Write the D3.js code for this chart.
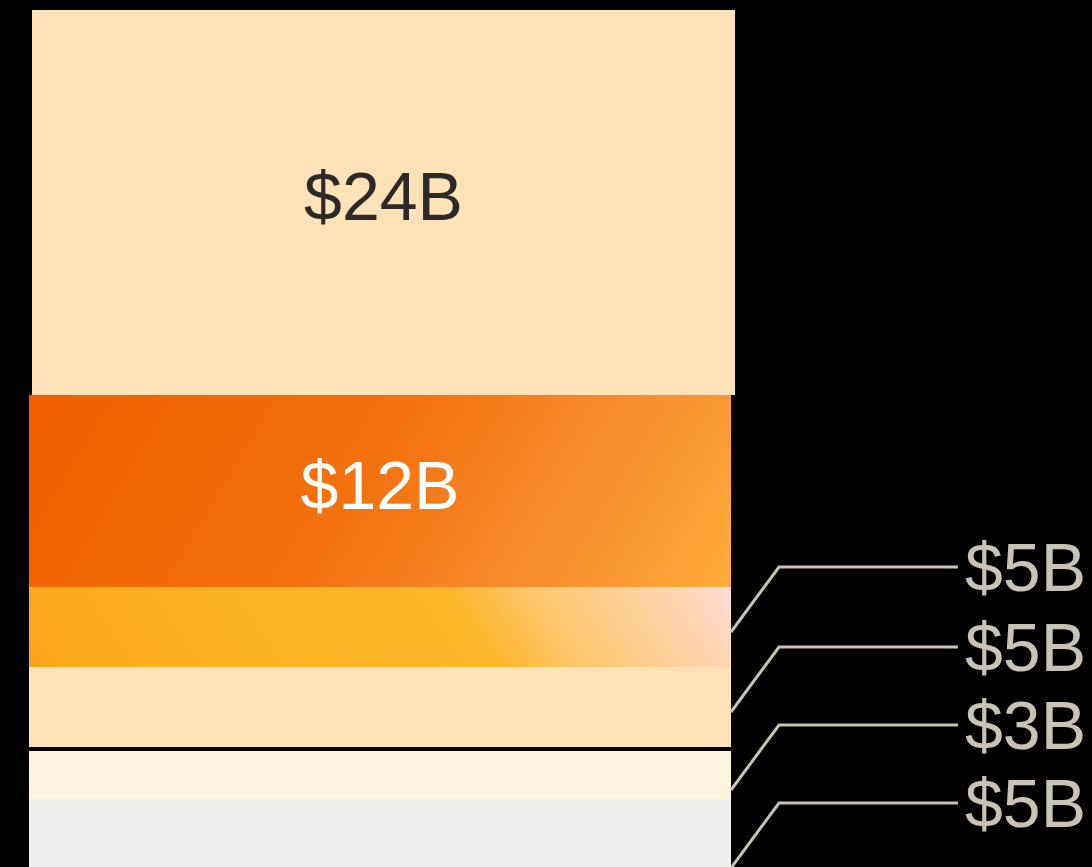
<!DOCTYPE html>
<html>
<head>
<meta charset="utf-8">
<script src="https://cdn.jsdelivr.net/npm/d3@7"></script>
<style>
  html, body { margin: 0; padding: 0; background: #000; }
  svg { display: block; }
</style>
</head>
<body>
<svg id="chart" width="1092" height="867"></svg>
<script>
// ---- data: one stacked column, segments listed top to bottom (values in $B)
const categories = ["Total"];
const segmentValues = [24, 12, 5, 5, 3, 5];
const segmentLabels = ["$24B", "$12B", "$5B", "$5B", "$3B", "$5B"];
const segmentGroups = [0, 0, 0, 0, 1, 1];

// ---- styling
const segmentFills = ["#FFE2B8", "url(#gradOrange)", "url(#gradAmber)", "#FFE2B8", "#FFF4DF", "#EFEFED"];
const insideTextColors = ["#2b2a28", "#ffffff"];
const calloutColor = "#C9C3B5";
const fontFamily = "'Liberation Sans', Arial, Helvetica, sans-serif";
const fontSize = 68;

// ---- layout
const W = 1092, H = 867;
const margin = { top: 10, left: 29 };
const barWidth = 702;
const firstGroupHeight = 737;      // pixel height of the first group of segments
const groupGap = 4;                // black separator between the two groups
const firstSegmentShift = 3;       // the top block sits slightly to the right
const insideMinHeight = 100;       // smaller segments get a callout on the right
const leader = { dx: 48, dy: 65, endX: 958, textX: 965, lift: 60, minSpacing: 78 };

const svg = d3.select("#chart").attr("width", W).attr("height", H);
svg.append("rect").attr("width", W).attr("height", H).attr("fill", "#000");

const x = d3.scaleBand().domain(categories).range([margin.left, margin.left + barWidth]).padding(0);
const firstGroupTotal = d3.sum(segmentValues.filter((v, i) => segmentGroups[i] === 0));
const y = d3.scaleLinear().domain([0, firstGroupTotal]).range([margin.top, margin.top + firstGroupHeight]);

// stacked extents, snapped to whole pixels so neighbouring blocks meet cleanly
const ends = d3.cumsum(segmentValues);
const segments = segmentValues.map((v, i) => {
  const v0 = ends[i] - v, v1 = ends[i];
  const off = segmentGroups[i] * groupGap;
  const top = Math.round(y(v0) + off), bottom = Math.round(y(v1) + off);
  const shift = i === 0 ? firstSegmentShift : 0;
  return {
    i, value: v, label: segmentLabels[i],
    x: x(categories[0]) + shift,
    w: x.bandwidth() + (shift ? 1 : 0),
    top, bottom, h: bottom - top, cy: (top + bottom) / 2,
    fill: segmentFills[i]
  };
});

// ---- gradients (direction-based, spanning each segment's box)
const defs = svg.append("defs");
function addGradient(id, seg, dir, stops) {
  const len = Math.hypot(dir[0], dir[1]);
  const ux = dir[0] / len, uy = dir[1] / len;
  const cx = seg.x + seg.w / 2, cy = seg.top + seg.h / 2;
  const corners = [[seg.x, seg.top], [seg.x + seg.w, seg.top], [seg.x, seg.bottom], [seg.x + seg.w, seg.bottom]];
  const proj = corners.map(([px, py]) => (px - cx) * ux + (py - cy) * uy);
  const pMin = d3.min(proj), pMax = d3.max(proj);
  const g = defs.append("linearGradient").attr("id", id)
    .attr("gradientUnits", "userSpaceOnUse")
    .attr("x1", cx + ux * pMin).attr("y1", cy + uy * pMin)
    .attr("x2", cx + ux * pMax).attr("y2", cy + uy * pMax);
  stops.forEach(([o, c]) => g.append("stop").attr("offset", o).attr("stop-color", c));
}
addGradient("gradOrange", segments[1], [1, 0.6], [
  [0, "#EF5E00"], [0.14, "#F06400"], [0.47, "#F3710F"], [0.7, "#F7892A"], [0.86, "#FA9934"], [1, "#FFAD3C"]
]);
addGradient("gradAmber", segments[2], [1, -0.66], [
  [0, "#FBA01A"], [0.07, "#FCAA20"], [0.3, "#FCB225"], [0.62, "#FCB62A"], [0.73, "#FDC66A"],
  [0.86, "#FED09C"], [0.93, "#FFD6B5"], [1, "#FFDDDA"]
]);

// ---- segments
svg.append("g").attr("shape-rendering", "crispEdges")
  .selectAll("rect").data(segments).join("rect")
  .attr("x", d => d.x).attr("y", d => d.top)
  .attr("width", d => d.w).attr("height", d => d.h)
  .attr("fill", d => d.fill);

// ---- labels inside tall segments
const inside = segments.filter(d => d.h >= insideMinHeight);
svg.append("g").selectAll("text").data(inside).join("text")
  .attr("x", d => d.x + d.w / 2).attr("y", d => d.cy)
  .attr("dy", "0.26em")
  .attr("text-anchor", "middle")
  .attr("font-family", fontFamily).attr("font-size", fontSize)
  .attr("fill", d => insideTextColors[d.i])
  .text(d => d.label);

// ---- callouts for short segments, pushed apart so they do not overlap
const callouts = segments.filter(d => d.h < insideMinHeight);
let prevY = -Infinity;
callouts.forEach(d => {
  d.ly = Math.max(d.cy - leader.lift, prevY + leader.minSpacing);
  prevY = d.ly;
});
const barRight = margin.left + barWidth;
const line = d3.line();
const cg = svg.append("g");
cg.selectAll("path").data(callouts).join("path")
  .attr("d", d => line([[barRight, d.ly + leader.dy], [barRight + leader.dx, d.ly], [leader.endX, d.ly]]))
  .attr("fill", "none").attr("stroke", calloutColor).attr("stroke-width", 3);
cg.selectAll("text").data(callouts).join("text")
  .attr("x", leader.textX).attr("y", d => d.ly)
  .attr("dy", "0.35em")
  .attr("font-family", fontFamily).attr("font-size", fontSize)
  .attr("fill", calloutColor)
  .text(d => d.label);
</script>
</body>
</html>
